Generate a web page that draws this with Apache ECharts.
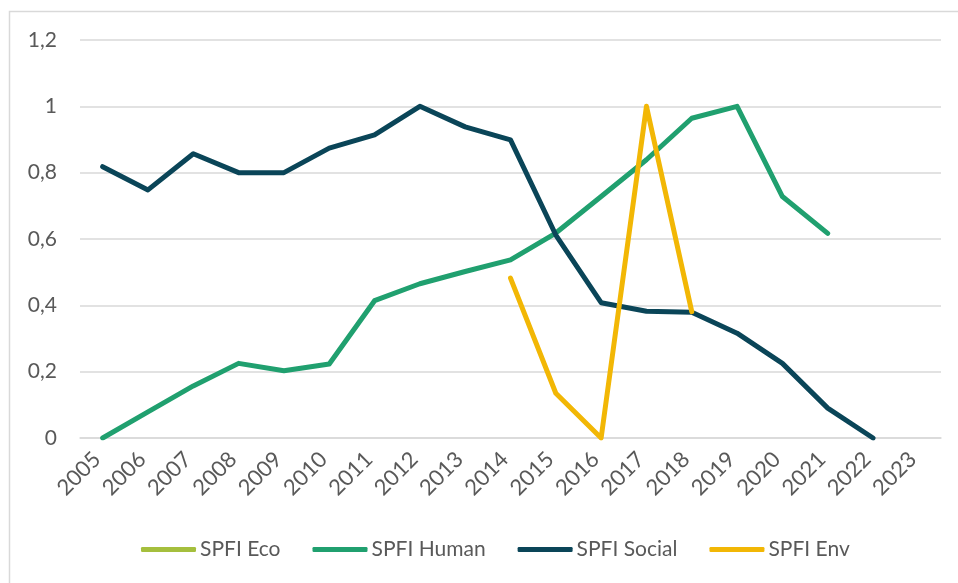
<!DOCTYPE html>
<html>
<head>
<meta charset="utf-8">
<script src="https://cdn.jsdelivr.net/npm/echarts@6/dist/echarts.min.js"></script>
<style>
  html, body { margin: 0; padding: 0; background: #fff; }
  #chart { width: 958px; height: 583px; }
</style>
</head>
<body>
<div id="chart"></div>
<script>
// SPFI sub-indices, 2005-2023
const years = ['2005', '2006', '2007', '2008', '2009', '2010', '2011', '2012', '2013', '2014',
  '2015', '2016', '2017', '2018', '2019', '2020', '2021', '2022', '2023']
const spfiEco = [null, null, null, null, null, null, null, null, null, null,
  null, null, null, null, null, null, null, null, null]
const spfiHuman = [0, 0.079, 0.157, 0.225, 0.203, 0.223, 0.414, 0.465, 0.502, 0.537,
  0.618, 0.728, 0.839, 0.964, 1, 0.728, 0.617, null, null]
const spfiSocial = [0.818, 0.748, 0.857, 0.8, 0.8, 0.874, 0.914, 1, 0.938, 0.899,
  0.612, 0.408, 0.382, 0.379, 0.316, 0.225, 0.09, 0, null]
const spfiEnv = [null, null, null, null, null, null, null, null, null, 0.482,
  0.135, 0, 1, 0.381, null, null, null, null, null]

const seriesNames = ['SPFI Eco', 'SPFI Human', 'SPFI Social', 'SPFI Env']
const colors = ['#A5BF3D', '#20A06F', '#0A4558', '#F2B705']

const font = 'Lato'
const textColor = '#595959'

const chart = echarts.init(document.getElementById('chart'))

function lineSeries(name, data, color) {
  return {
    name: name,
    type: 'line',
    data: data,
    showSymbol: false,
    symbol: 'none',
    connectNulls: false,
    color: color,
    lineStyle: { width: 5, color: color, cap: 'round', join: 'round' },
    emphasis: { disabled: true }
  }
}

chart.setOption({
  animation: false,
  graphic: [{
    type: 'rect',
    shape: { x: 9.5, y: 11.5, width: 980, height: 620 },
    style: { fill: 'none', stroke: '#D9D9D9', lineWidth: 1.5 },
    silent: true
  }],
  grid: { left: 80, right: 17, top: 40, bottom: 145, outerBoundsMode: 'none' },
  legend: {
    data: seriesNames,
    bottom: 18,
    left: 136,
    icon: 'roundRect',
    itemWidth: 55,
    itemHeight: 5,
    itemGap: 32,
    textStyle: { fontFamily: font, fontSize: 21, color: textColor, padding: [0, 0, 0, -1] }
  },
  xAxis: {
    type: 'category',
    data: years,
    boundaryGap: true,
    axisLine: { lineStyle: { color: '#D9D9D9', width: 1.5 } },
    axisTick: { show: false },
    axisLabel: {
      rotate: 45,
      interval: 0,
      margin: 12,
      padding: [7, 8, 0, 0],
      fontFamily: font,
      fontSize: 22,
      color: textColor
    }
  },
  yAxis: {
    type: 'value',
    min: 0,
    max: 1.2,
    interval: 0.2,
    axisLine: { show: false },
    axisTick: { show: false },
    splitLine: { lineStyle: { color: '#D9D9D9', width: 1.5 } },
    axisLabel: {
      margin: 23,
      fontFamily: font,
      fontSize: 21,
      color: textColor,
      formatter: v => String(Math.round(v * 10) / 10).replace('.', ',')
    }
  },
  series: [
    lineSeries(seriesNames[0], spfiEco, colors[0]),
    lineSeries(seriesNames[1], spfiHuman, colors[1]),
    lineSeries(seriesNames[2], spfiSocial, colors[2]),
    lineSeries(seriesNames[3], spfiEnv, colors[3])
  ]
})
</script>
</body>
</html>
